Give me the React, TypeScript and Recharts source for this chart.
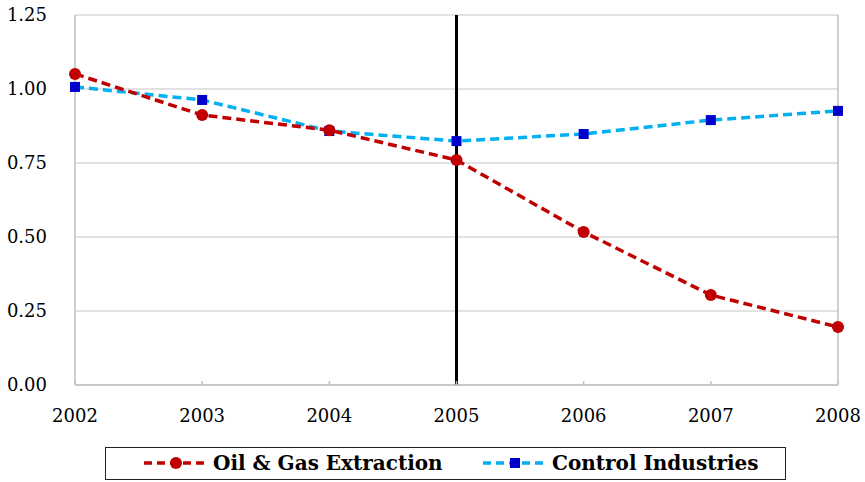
import { LineChart, Line, XAxis, YAxis, CartesianGrid, ReferenceLine } from 'recharts'

const years = [2002, 2003, 2004, 2005, 2006, 2007, 2008]
const oilGas = [1.051, 0.912, 0.861, 0.76, 0.517, 0.304, 0.196]
const control = [1.007, 0.963, 0.858, 0.824, 0.848, 0.895, 0.926]
const yTicks = [0, 0.25, 0.5, 0.75, 1.0, 1.25]
const seriesNames = ['Oil & Gas Extraction', 'Control Industries']

const RED = '#C00000'
const CYAN = '#00B0F0'
const BLUE = '#0000CC'
const FONT = '"DejaVu Serif", serif'

const data = years.map((y, i) => ({ year: y, oil: oilGas[i], control: control[i] }))

const CircleDot = (p: any) => <circle cx={p.cx} cy={p.cy} r={6} fill={RED} />
const SquareDot = (p: any) => <rect x={p.cx - 5} y={p.cy - 5} width={10} height={10} fill={BLUE} />

const tickStyle = { fontSize: 18, fill: '#000', fontFamily: FONT }

function LegendIcon({ line, marker }: { line: string; marker: 'circle' | 'square' }) {
  return (
    <svg width={66} height={20} style={{ display: 'block' }}>
      <line x1={1} y1={10} x2={65} y2={10} stroke={line} strokeWidth={3.5} strokeDasharray="8 5" />
      {marker === 'circle'
        ? <circle cx={33} cy={10} r={6} fill={RED} />
        : <rect x={28} y={5} width={10} height={10} fill={BLUE} />}
    </svg>
  )
}

export default function App() {
  const legendText = { fontWeight: 'bold', fontSize: 20, whiteSpace: 'nowrap' } as const
  return (
    <div style={{ position: 'absolute', left: 0, top: 0, width: 865, height: 482, background: '#fff', fontFamily: FONT }}>
      <LineChart width={865} height={482} data={data} margin={{ top: 15, right: 27, left: 0, bottom: 57 }}>
        <CartesianGrid vertical={false} stroke="#D9D9D9" strokeWidth={1.5} />
        <XAxis
          dataKey="year"
          type="number"
          domain={[2002, 2008]}
          ticks={years}
          height={40}
          stroke="#BFBFBF"
          strokeWidth={1.5}
          tickSize={-4}
          tickMargin={28}
          tick={tickStyle}
        />
        <YAxis
          domain={[0, 1.25]}
          ticks={yTicks}
          width={75}
          stroke="#BFBFBF"
          strokeWidth={1.5}
          tickLine={false}
          tickMargin={22}
          tickFormatter={(v) => Number(v).toFixed(2)}
          tick={tickStyle}
        />
        <ReferenceLine x={2008} stroke="#BFBFBF" strokeWidth={1.5} />
        <ReferenceLine x={2005} stroke="#000" strokeWidth={3} />
        <Line
          dataKey="control"
          stroke={CYAN}
          strokeWidth={3.5}
          strokeDasharray="9 5"
          dot={<SquareDot />}
          isAnimationActive={false}
        />
        <Line
          dataKey="oil"
          stroke={RED}
          strokeWidth={3.5}
          strokeDasharray="9 5"
          dot={<CircleDot />}
          isAnimationActive={false}
        />
      </LineChart>
      <div
        style={{
          position: 'absolute', left: 105, top: 447, width: 681, height: 33,
          border: '1.5px solid #222', boxSizing: 'border-box',
        }}
      >
        <div style={{ position: 'absolute', left: 37, top: 0, height: 30, display: 'flex', alignItems: 'center', gap: 4 }}>
          <LegendIcon line={RED} marker="circle" />
          <span style={legendText}>{seriesNames[0]}</span>
        </div>
        <div style={{ position: 'absolute', left: 376, top: 0, height: 30, display: 'flex', alignItems: 'center', gap: 4 }}>
          <LegendIcon line={CYAN} marker="square" />
          <span style={legendText}>{seriesNames[1]}</span>
        </div>
      </div>
    </div>
  )
}
